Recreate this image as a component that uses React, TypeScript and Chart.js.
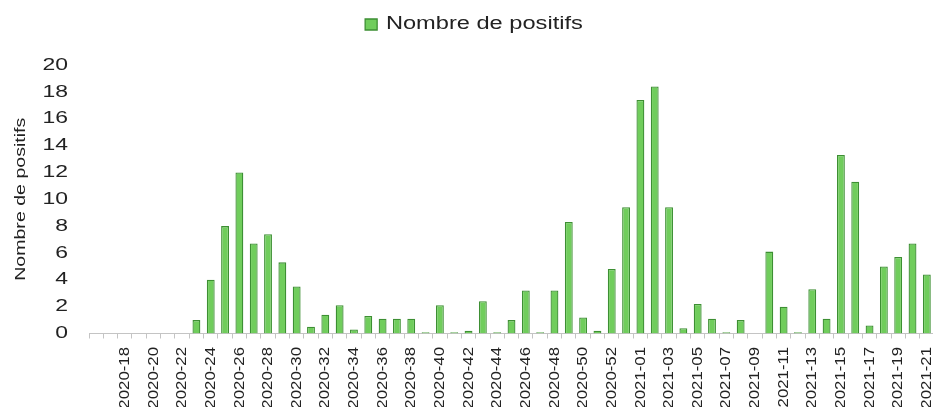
import React, { useEffect, useRef } from 'react';
import { Chart, registerables } from 'chart.js';

Chart.register(...registerables);

const WEEKS: string[] = [
  '2020-16', '2020-17', '2020-18', '2020-19', '2020-20', '2020-21', '2020-22', '2020-23',
  '2020-24', '2020-25', '2020-26', '2020-27', '2020-28', '2020-29', '2020-30', '2020-31',
  '2020-32', '2020-33', '2020-34', '2020-35', '2020-36', '2020-37', '2020-38', '2020-39',
  '2020-40', '2020-41', '2020-42', '2020-43', '2020-44', '2020-45', '2020-46', '2020-47',
  '2020-48', '2020-49', '2020-50', '2020-51', '2020-52', '2020-53',
  '2021-01', '2021-02', '2021-03', '2021-04', '2021-05', '2021-06', '2021-07', '2021-08',
  '2021-09', '2021-10', '2021-11', '2021-12', '2021-13', '2021-14', '2021-15', '2021-16',
  '2021-17', '2021-18', '2021-19', '2021-20', '2021-21',
];

const POSITIFS: number[] = [
  0, 0, 0, 0, 0, 0, 0, 1,
  4, 8, 12, 6.7, 7.4, 5.3, 3.5, 0.5,
  1.4, 2.1, 0.3, 1.3, 1.1, 1.1, 1.1, 0.1,
  2.1, 0.1, 0.2, 2.4, 0.1, 1.0, 3.2, 0.1,
  3.2, 8.3, 1.2, 0.2, 4.8, 9.4,
  17.4, 18.4, 9.4, 0.4, 2.2, 1.1, 0.1, 1.0,
  0, 6.1, 2.0, 0.1, 3.3, 1.1, 13.3, 11.3,
  0.6, 5.0, 5.7, 6.7, 4.4,
];

const SERIES_LABEL = 'Nombre de positifs';
const Y_TITLE = 'Nombre de positifs';
const Y_MIN = 0;
const Y_MAX = 20;
const Y_STEP = 2;

const FONT = "'Liberation Sans', Arial, sans-serif";
const TEXT_COLOR = '#222222';
const AXIS_COLOR = '#c4c4c4';
const BAR_FILL = '#70cd5c';
const BAR_BORDER = '#3d8f33';

const LEGEND_SIZE = 17.5;
const Y_TICK_SIZE = 17;
const Y_TITLE_SIZE = 14.5;
const X_TICK_SIZE = 15;

// the reference text is drawn wider along its reading direction
const DEFAULT_STRETCH = 1.35;
const X_TICK_STRETCH = 1.12;

function stretchFor(ctx: CanvasRenderingContext2D): number {
  const m = /(\d+(?:\.\d+)?)px/.exec(ctx.font);
  if (m && parseFloat(m[1]) === X_TICK_SIZE) return X_TICK_STRETCH;
  return DEFAULT_STRETCH;
}

function stretchText(ctx: CanvasRenderingContext2D) {
  const proto = CanvasRenderingContext2D.prototype;
  (ctx as any).fillText = (text: string, x: number, y: number, maxWidth?: number) => {
    const k = stretchFor(ctx);
    ctx.save();
    ctx.translate(x, y);
    ctx.scale(k, 1);
    if (maxWidth !== undefined && maxWidth !== null) {
      proto.fillText.call(ctx, text, 0, 0, maxWidth / k);
    } else {
      proto.fillText.call(ctx, text, 0, 0);
    }
    ctx.restore();
  };
  (ctx as any).measureText = (text: string) => {
    const k = stretchFor(ctx);
    const m = proto.measureText.call(ctx, text);
    return {
      width: m.width * k,
      actualBoundingBoxLeft: m.actualBoundingBoxLeft * k,
      actualBoundingBoxRight: m.actualBoundingBoxRight * k,
      actualBoundingBoxAscent: m.actualBoundingBoxAscent,
      actualBoundingBoxDescent: m.actualBoundingBoxDescent,
      fontBoundingBoxAscent: m.fontBoundingBoxAscent,
      fontBoundingBoxDescent: m.fontBoundingBoxDescent,
    };
  };
}

export default function App() {
  const canvasRef = useRef<HTMLCanvasElement | null>(null);

  useEffect(() => {
    const canvas = canvasRef.current;
    if (!canvas) return;
    const ctx = canvas.getContext('2d');
    if (!ctx) return;
    stretchText(ctx);
    const chart = new Chart(ctx, {
      type: 'bar',
      data: {
        labels: WEEKS,
        datasets: [
          {
            label: SERIES_LABEL,
            data: POSITIFS,
            backgroundColor: BAR_FILL,
            borderColor: BAR_BORDER,
            borderWidth: 1.3,
            categoryPercentage: 1,
            barPercentage: 0.55,
          },
        ],
      },
      options: {
        responsive: false,
        animation: false,
        devicePixelRatio: 1,
        layout: { padding: { top: 5.75, left: 14, right: 2, bottom: 0 } },
        plugins: {
          legend: {
            position: 'top',
            labels: {
              boxWidth: 12,
              boxHeight: 11,
              padding: 10,
              color: TEXT_COLOR,
              font: { family: FONT, size: LEGEND_SIZE },
            },
          },
          title: {
            display: true,
            text: '',
            weight: 500,
            padding: 0,
            font: { size: 21.75, lineHeight: 1 },
          },
          tooltip: { enabled: false },
        },
        scales: {
          x: {
            offset: true,
            grid: {
              display: true,
              drawOnChartArea: false,
              drawTicks: true,
              tickLength: 5,
              color: AXIS_COLOR,
              offset: true,
            },
            border: { display: true, color: AXIS_COLOR, width: 1 },
            ticks: {
              autoSkip: false,
              minRotation: 90,
              maxRotation: 90,
              padding: 8.5,
              color: TEXT_COLOR,
              font: { family: FONT, size: X_TICK_SIZE },
              callback: (_v: any, index: number) =>
                index > 0 && index % 2 === 0 ? WEEKS[index] : '',
            },
            afterFit: (scale: any) => {
              scale.height = 73.5;
              scale.paddingLeft = 0;
              scale.paddingRight = 0;
            },
          },
          y: {
            min: Y_MIN,
            max: Y_MAX,
            grid: { display: false, drawTicks: false },
            border: { display: false },
            ticks: {
              stepSize: Y_STEP,
              padding: 21,
              color: TEXT_COLOR,
              font: { family: FONT, size: Y_TICK_SIZE },
            },
            title: {
              display: true,
              text: Y_TITLE,
              color: TEXT_COLOR,
              padding: { top: 0, bottom: 0 },
              font: { family: FONT, size: Y_TITLE_SIZE, lineHeight: 1 },
            },
            afterFit: (scale: any) => {
              scale.width = 75;
            },
          },
        },
      } as any,
    });
    return () => chart.destroy();
  }, []);

  return (
    <div
      style={{
        position: 'absolute',
        left: 0,
        top: 0,
        width: 933,
        height: 407,
        overflow: 'hidden',
        background: '#ffffff',
      }}
    >
      <canvas
        ref={canvasRef}
        width={936}
        height={407}
        style={{ display: 'block', width: 936, height: 407 }}
      />
    </div>
  );
}
